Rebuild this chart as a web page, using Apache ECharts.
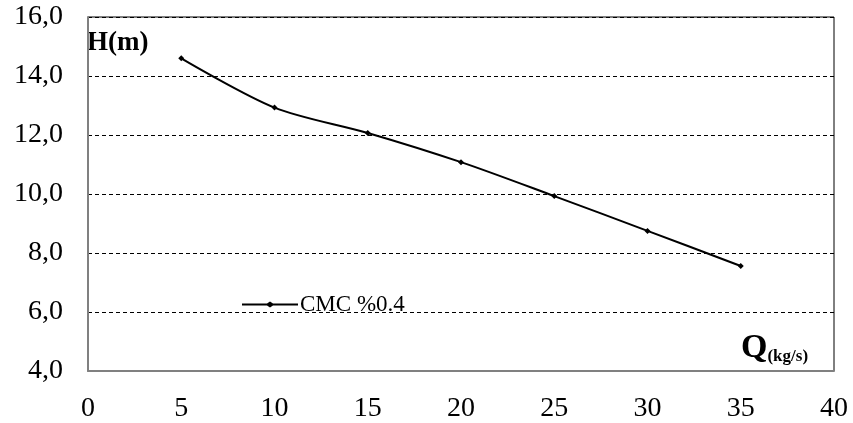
<!DOCTYPE html>
<html><head><meta charset="utf-8">
<script src="https://cdn.jsdelivr.net/npm/echarts@6/dist/echarts.min.js"></script>
<style>html,body{margin:0;padding:0;background:#fff}#c{width:853px;height:423px}</style>
</head><body><div id="c"></div>
<script>
const xValues = [5, 10, 15, 20, 25, 30, 35];
const hValues = [14.6, 12.93, 12.07, 11.08, 9.93, 8.75, 7.56];
const seriesName = 'CMC %0.4';
const yTitle = 'H(m)';
const xTitleMain = 'Q';
const xTitleSub = '(kg/s)';

const chart = echarts.init(document.getElementById('c'));
const font = 'Liberation Serif';
chart.setOption({
  animation: false,
  backgroundColor: '#fff',
  grid: {left: 88, right: 19, top: 17, bottom: 52, show: true, borderColor: '#000', borderWidth: 1},
  legend: {
    left: 242, top: 293, padding: 0, itemWidth: 56, itemHeight: 24, itemGap: 0,
    textStyle: {fontFamily: font, fontSize: 23, color: '#000', padding: [0,0,0,-3]},
    data: [{name: seriesName, icon: 'path://M0,11 L25,11 L28,9 L31,11 L56,11 L56,13 L31,13 L28,15 L25,13 L0,13 Z'}]
  },
  xAxis: {
    type: 'value', min: 0, max: 40, interval: 5,
    axisLine: {show: true, lineStyle: {color: '#808080', width: 2}},
    axisTick: {show: false},
    splitLine: {show: false},
    axisLabel: {fontFamily: font, fontSize: 28, color: '#000', margin: 24}
  },
  yAxis: {
    type: 'value', min: 4, max: 16, interval: 2,
    axisLine: {show: true, lineStyle: {color: '#808080', width: 2}},
    axisTick: {show: false},
    splitLine: {show: true, lineStyle: {color: '#000', type: [4, 3], width: 1}},
    axisLabel: {fontFamily: font, fontSize: 28, color: '#000', margin: 25,
      formatter: v => v.toFixed(1).replace('.', ',')}
  },
  series: [{
    name: seriesName, type: 'line', smooth: 0.3,
    data: xValues.map((x, i) => [x, hValues[i]]),
    symbol: 'diamond', symbolSize: 6, showSymbol: true,
    lineStyle: {color: '#000', width: 2},
    itemStyle: {color: '#000'}
  }],
  graphic: [
    {type: 'text', left: 87, top: 30, style: {text: yTitle, fontFamily: font, fontSize: 27, fontWeight: 'bold', fill: '#000'}},
    {type: 'text', left: 741, top: 331, style: {
      text: '{a|' + xTitleMain + '}{b|' + xTitleSub + '}',
      rich: {
        a: {fontFamily: font, fontSize: 34, fontWeight: 'bold', color: '#000'},
        b: {fontFamily: font, fontSize: 17, fontWeight: 'bold', color: '#000', verticalAlign: 'bottom', padding: [18,0,0,0]}
      }
    }}
  ]
});
</script></body></html>
